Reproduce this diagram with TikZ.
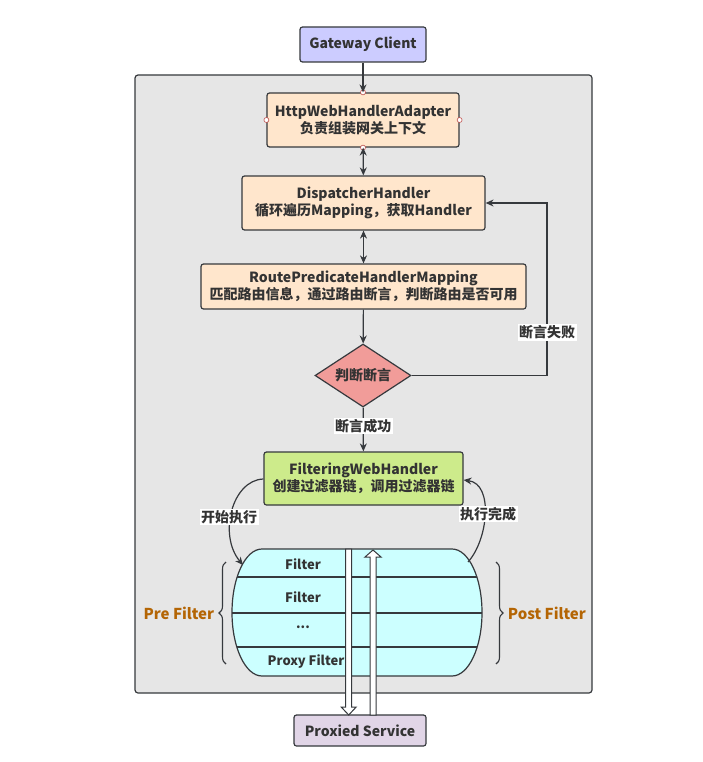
\documentclass[tikz,border=0pt]{standalone}
\usepackage{fontspec}
\setmainfont{Noto Sans CJK SC}
\usetikzlibrary{shapes.geometric,arrows.meta,decorations.pathreplacing,calc}
\definecolor{ink}{HTML}{333333}
\definecolor{edge}{HTML}{36393D}
\definecolor{gcfill}{HTML}{CCCCFF}
\definecolor{orfill}{HTML}{FFE6CC}
\definecolor{rdfill}{HTML}{F19C99}
\definecolor{gnfill}{HTML}{CDEB8B}
\definecolor{cyfill}{HTML}{CCFFFF}
\definecolor{pufill}{HTML}{E1D5E7}
\definecolor{bgfill}{HTML}{E6E6E6}
\definecolor{brown}{HTML}{B46504}
\definecolor{ptred}{HTML}{C0504D}
\tikzset{
  txt/.style={font=\fontsize{14}{17.5}\selectfont\bfseries, text=ink, align=center},
  ftxt/.style={font=\fontsize{13}{16}\selectfont\bfseries, text=ink, align=center},
  box/.style={txt, draw=edge, line width=1.2pt, rounded corners=2.5pt, inner sep=0pt},
  arr/.style={draw=edge, line width=1.2pt, -{Stealth[length=8pt,width=7pt]}},
  darr/.style={draw=edge, line width=1.2pt, {Stealth[length=8pt,width=7pt]}-{Stealth[length=8pt,width=7pt]}},
  lbl/.style={txt, fill=white, inner sep=1.5pt},
  cpt/.style={circle, draw=ptred, fill=white, line width=0.6pt, minimum size=5pt, inner sep=0pt},
  hollow/.style={draw=edge, fill=white, line width=1pt, line join=miter},
  brc/.style={draw=edge, line width=1.1pt, decorate, decoration={brace, amplitude=7pt}},
}
\begin{document}
\begin{tikzpicture}[x=1pt,y=-1pt]
\useasboundingbox (0,0) rectangle (702,762);
% container
\node[draw=edge, fill=bgfill, line width=1.2pt, rounded corners=3pt, minimum width=457pt, minimum height=618pt, inner sep=0pt] (outer) at (363.5,384) {};
% nodes
\node[box, fill=gcfill, minimum width=126pt, minimum height=35pt] (gc) at (363,44.5) {Gateway Client};
\node[box, fill=orfill, minimum width=192pt, minimum height=54pt] (hw) at (363,120) {HttpWebHandlerAdapter\\负责组装网关上下文};
\node[box, fill=orfill, minimum width=243pt, minimum height=54pt] (dh) at (363.5,203) {DispatcherHandler\\循环遍历Mapping，获取Handler};
\node[box, fill=orfill, minimum width=325pt, minimum height=45pt] (rp) at (363.5,286.5) {RoutePredicateHandlerMapping\\匹配路由信息，通过路由断言，判断路由是否可用};
\node[txt, diamond, draw=edge, fill=rdfill, line width=1.2pt, minimum width=96pt, minimum height=63pt, aspect=1.52, inner sep=0pt] (dm) at (363,375.5) {判断断言};
\node[box, fill=gnfill, minimum width=199pt, minimum height=53pt] (fw) at (363.5,478.5) {FilteringWebHandler\\创建过滤器链，调用过滤器链};
\node[box, fill=pufill, minimum width=132pt, minimum height=31pt] (ps) at (360,730.5) {Proxied Service};
% connection points
\foreach \a in {north,south,east,west} \node[cpt] at (hw.\a) {};
% filter chain shape
\path[fill=cyfill] (262,549) -- (452,549) arc[start angle=-90,end angle=90,x radius=30,y radius=63.5] -- (262,676) arc[start angle=90,end angle=270,x radius=30,y radius=63.5] -- cycle;
\begin{scope}
\clip (262,549) -- (452,549) arc[start angle=-90,end angle=90,x radius=30,y radius=63.5] -- (262,676) arc[start angle=90,end angle=270,x radius=30,y radius=63.5] -- cycle;
\foreach \yy in {577,613,647} \draw[edge, line width=1.2pt] (220,\yy) -- (500,\yy);
\end{scope}
\draw[edge, line width=1.2pt] (262,549) -- (452,549) arc[start angle=-90,end angle=90,x radius=30,y radius=63.5] -- (262,676) arc[start angle=90,end angle=270,x radius=30,y radius=63.5] -- cycle;
\node[ftxt] (f1) at (303,564) {Filter};
\node[ftxt] (f2) at (303,597) {Filter};
\node[ftxt] (f3) at (303,627) {...};
\node[ftxt] (f4) at (306,662) {Proxy Filter};
% braces
\draw[brc] (226,664) -- node[txt, font=\fontsize{15}{18}\selectfont\bfseries, text=brown, anchor=east, xshift=-8pt] (pre) {Pre Filter} (226,562);
\draw[brc] (496,562) -- node[txt, font=\fontsize{15}{18}\selectfont\bfseries, text=brown, anchor=west, xshift=8pt] (post) {Post Filter} (496,664);
% connectors
\draw[arr] (gc) -- (hw);
\draw[darr] (hw) -- (dh);
\draw[darr] (dh) -- (rp);
\draw[arr] (rp) -- (dm);
\draw[arr] (dm) -- node[lbl, pos=0.42] {断言成功} (fw);
\coordinate (loopx) at (547,290);
\draw[arr] (dm.east) -- (dm.east -| loopx) -- node[lbl, pos=0.25] {断言失败} (dh.east -| loopx) -- (dh.east);
\coordinate (cylL) at (243,565);
\coordinate (cylR) at (468,562);
\draw[arr] (fw.west |- 0,479) .. controls (232,480) and (218,535) .. (cylL);
\node[lbl] (startlbl) at (229,517) {开始执行};
\draw[arr] (cylR) .. controls (488,540) and (494,484) .. (fw.east |- 0,480);
\node[lbl] (donelbl) at (488,514) {执行完成};
% hollow arrows
\coordinate (dtop) at (348.7,549);
\path[hollow] (dtop) ++(-3,0) -- ++(6,0) -- ++(0,158) -- ++(4.5,0) -- ++(-7.5,8) -- ++(-7.5,-8) -- ++(4.5,0) -- cycle;
\coordinate (utip) at (373,550);
\path[hollow] (utip) -- ++(8,7) -- ++(-5,0) -- ++(0,158) -- ++(-6,0) -- ++(0,-158) -- ++(-5,0) -- cycle;
\end{tikzpicture}
\end{document}
